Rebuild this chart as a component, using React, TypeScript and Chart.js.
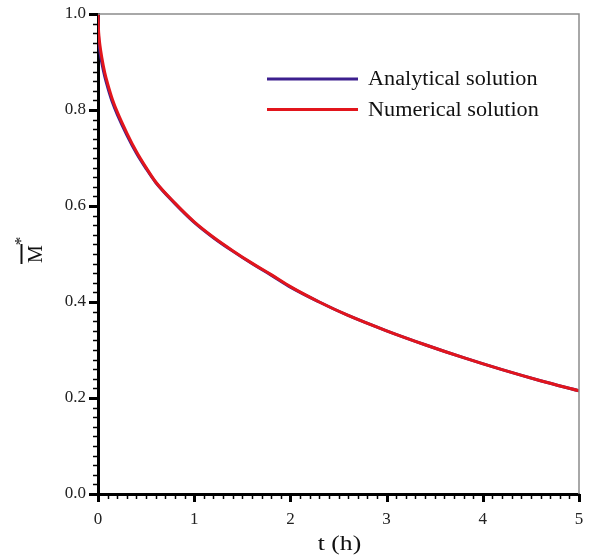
import React, { useEffect, useRef } from "react";
import { Chart, registerables } from "chart.js";

Chart.register(...registerables);

// ---- data ----
const timeHours = [
  0, 0.005, 0.01, 0.02, 0.04, 0.07, 0.1, 0.15, 0.2, 0.3, 0.4, 0.5, 0.6, 0.8,
  1.0, 1.2, 1.4, 1.6, 1.8, 2.0, 2.3, 2.6, 3.0, 3.4, 3.8, 4.2, 4.6, 5.0,
];
const analyticalValues = [
  1.0, 0.955, 0.94, 0.922, 0.898, 0.87, 0.848, 0.816, 0.791, 0.748, 0.71, 0.678,
  0.649, 0.605, 0.566, 0.534, 0.506, 0.48, 0.456, 0.431, 0.4, 0.372, 0.34,
  0.311, 0.284, 0.259, 0.236, 0.215,
];
const numericalValues = [
  1.0, 0.968, 0.954, 0.935, 0.909, 0.878, 0.855, 0.822, 0.796, 0.752, 0.713,
  0.68, 0.65, 0.606, 0.567, 0.535, 0.507, 0.481, 0.457, 0.432, 0.4, 0.372,
  0.34, 0.311, 0.284, 0.259, 0.236, 0.215,
];
const seriesLabels = ["Analytical solution", "Numerical solution"];
const seriesColors = ["#3c1f8e", "#e2151c"];
const xRange = [0, 5];
const yRange = [0, 1];
const xMajorStep = 1;
const xMinorStep = 0.1;
const yMajorStep = 0.2;
const yMinorStep = 0.02;
const xTitle = "t (h)";
const yTitleLetter = "M";
const yTitleSup = "*";

const SERIF = "'Liberation Serif', 'DejaVu Serif', serif";

const decorPlugin = {
  id: "decor",
  afterDraw(chart: any) {
    const { ctx, chartArea } = chart;
    const { left, right, top, bottom } = chartArea;
    const xs = chart.scales.x;
    const ys = chart.scales.y;
    ctx.save();

    // top and right frame
    ctx.strokeStyle = "#8c8c8c";
    ctx.lineWidth = 1.5;
    ctx.beginPath();
    ctx.moveTo(left, top);
    ctx.lineTo(right, top);
    ctx.lineTo(right, bottom);
    ctx.stroke();

    // x ticks
    ctx.strokeStyle = "#000";
    const nx = Math.round((xRange[1] - xRange[0]) / xMinorStep);
    const xMajEvery = Math.round(xMajorStep / xMinorStep);
    for (let i = 0; i <= nx; i++) {
      const v = xRange[0] + i * xMinorStep;
      const px = Math.round(xs.getPixelForValue(v)) + 0.5;
      const major = i % xMajEvery === 0;
      ctx.lineWidth = major ? 3 : 1.5;
      ctx.beginPath();
      ctx.moveTo(px, bottom);
      ctx.lineTo(px, bottom + (major ? 8 : 5));
      ctx.stroke();
    }
    // y ticks
    const ny = Math.round((yRange[1] - yRange[0]) / yMinorStep);
    const yMajEvery = Math.round(yMajorStep / yMinorStep);
    for (let i = 0; i <= ny; i++) {
      const v = yRange[0] + i * yMinorStep;
      const py = Math.round(ys.getPixelForValue(v)) + 0.5;
      const major = i % yMajEvery === 0;
      ctx.lineWidth = major ? 3 : 1.5;
      ctx.beginPath();
      ctx.moveTo(left, py);
      ctx.lineTo(left - (major ? 9 : 5), py);
      ctx.stroke();
    }

    // x title
    ctx.save();
    ctx.translate((left + right) / 2 + 1, 545);
    ctx.scale(1.28, 1);
    ctx.fillStyle = "#111";
    ctx.font = `20px ${SERIF}`;
    ctx.textAlign = "center";
    ctx.textBaseline = "middle";
    ctx.fillText(xTitle, 0, 0);
    ctx.restore();

    // y title: M with overline and asterisk, rotated
    ctx.save();
    ctx.translate(35, 254);
    ctx.rotate(-Math.PI / 2);
    ctx.fillStyle = "#111";
    ctx.font = `20px ${SERIF}`;
    ctx.textAlign = "center";
    ctx.textBaseline = "alphabetic";
    ctx.fillText(yTitleLetter, 0, 6.5);
    ctx.strokeStyle = "#111";
    ctx.lineWidth = 2;
    ctx.beginPath();
    ctx.moveTo(-10, -13.5);
    ctx.lineTo(10, -13.5);
    ctx.stroke();
    ctx.font = `17px ${SERIF}`;
    ctx.textBaseline = "middle";
    ctx.fillText(yTitleSup, 13, -13);
    ctx.restore();

    // legend
    chart.data.datasets.forEach((ds: any, i: number) => {
      const y = 79 + i * 30.5;
      ctx.strokeStyle = ds.borderColor;
      ctx.lineWidth = 3;
      ctx.beginPath();
      ctx.moveTo(267, y);
      ctx.lineTo(358, y);
      ctx.stroke();
      ctx.save();
      ctx.translate(368, y + 1);
      ctx.scale(1.11, 1);
      ctx.fillStyle = "#111";
      ctx.font = `20px ${SERIF}`;
      ctx.textAlign = "left";
      ctx.textBaseline = "middle";
      ctx.fillText(ds.label, 0, 0);
      ctx.restore();
    });

    ctx.restore();
  },
};

export default function App() {
  const canvasRef = useRef<HTMLCanvasElement | null>(null);

  useEffect(() => {
    document.body.style.margin = "0";
    const canvas = canvasRef.current;
    if (!canvas) return;
    const series = [analyticalValues, numericalValues];
    const chart = new Chart(canvas, {
      type: "line",
      data: {
        datasets: series.map((vals, i) => ({
          label: seriesLabels[i],
          data: timeHours.map((t, k) => ({ x: t, y: vals[k] })),
          borderColor: seriesColors[i],
          backgroundColor: seriesColors[i],
          borderWidth: 3,
          pointRadius: 0,
          cubicInterpolationMode: "monotone",
          fill: false,
          order: series.length - i,
        })),
      },
      options: {
        animation: false,
        responsive: true,
        maintainAspectRatio: false,
        layout: { padding: { left: 0, right: 10, top: 14, bottom: 0 } },
        plugins: {
          legend: { display: false },
          tooltip: { enabled: false },
        },
        scales: {
          x: {
            type: "linear",
            min: xRange[0],
            max: xRange[1],
            afterFit(scale: any) {
              scale.height = 64;
              scale.paddingLeft = 0;
              scale.paddingRight = 0;
            },
            ticks: {
              stepSize: xMajorStep,
              padding: 15,
              color: "#222",
              font: { family: SERIF, size: 17 },
              maxRotation: 0,
              callback: (v: any) => String(v),
            },
            grid: { display: true, drawOnChartArea: false, drawTicks: false },
            border: { display: true, color: "#000", width: 3 },
            title: { display: false },
          },
          y: {
            type: "linear",
            min: yRange[0],
            max: yRange[1],
            afterFit(scale: any) {
              scale.width = 98;
              scale.paddingTop = 0;
              scale.paddingBottom = 0;
            },
            ticks: {
              stepSize: yMajorStep,
              padding: 12,
              color: "#222",
              font: { family: SERIF, size: 17 },
              callback: (v: any) => Number(v).toFixed(1),
            },
            grid: { display: true, drawOnChartArea: false, drawTicks: false },
            border: { display: true, color: "#000", width: 3 },
          },
        },
      },
      plugins: [decorPlugin],
    });
    return () => chart.destroy();
  }, []);

  return (
    <div style={{ position: "relative", width: 589, height: 558 }}>
      <canvas ref={canvasRef} />
    </div>
  );
}
